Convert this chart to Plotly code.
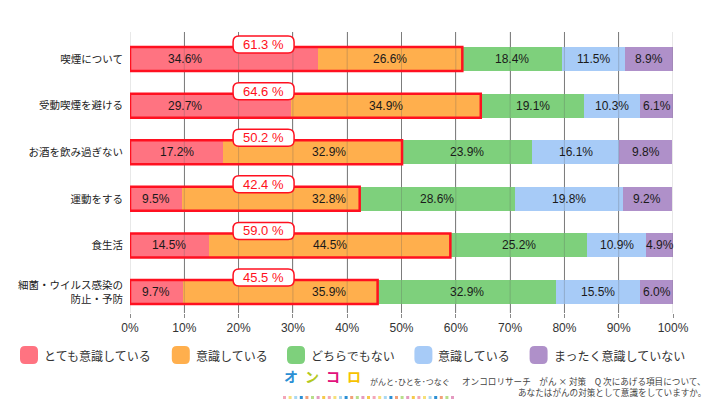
import plotly.graph_objects as go

# ---------------- data ----------------
categories = ["喫煙について", "受動喫煙を避ける", "お酒を飲み過ぎない", "運動をする", "食生活",
              "細菌・ウイルス感染の<br>防止・予防"]
series_names = ["とても意識している", "意識している", "どちらでもない", "意識している", "まったく意識していない"]
very_conscious = [34.6, 29.7, 17.2, 9.5, 14.5, 9.7]
conscious = [26.6, 34.9, 32.9, 32.8, 44.5, 35.9]
neutral = [18.4, 19.1, 23.9, 28.6, 25.2, 32.9]
somewhat = [11.5, 10.3, 16.1, 19.8, 10.9, 15.5]
not_at_all = [8.9, 6.1, 9.8, 9.2, 4.9, 6.0]
conscious_total = [61.3, 64.6, 50.2, 42.4, 59.0, 45.5]
tick_vals = [0, 10, 20, 30, 40, 50, 60, 70, 80, 90, 100]
tick_text = ["0%", "10%", "20%", "30%", "40%", "50%", "60%", "70%", "80%", "90%", "100%"]

series = [very_conscious, conscious, neutral, somewhat, not_at_all]
colors = ["#FF7381", "#FFAF4D", "#7ED07C", "#A7CBF7", "#AF90C9"]

# ---------------- layout geometry (page pixels) ----------------
PAGE_W, PAGE_H = 720, 411
OFF = 8  # default body margin of the html page
W, H = PAGE_W - 2 * OFF, PAGE_H - 2 * OFF
PL, PR, PT, PB = 130, 673, 32, 313  # plot area in page pixels
ML, MT = PL - OFF, PT - OFF
MR, MB = W - (PR - OFF), H - (PB - OFF)
PW, PH = PR - PL, PB - PT
BAR_W = 0.515
JP = "Noto Sans CJK JP"
LAT = "Liberation Sans, Arial, sans-serif"

def px2x(px):
    return (px - PL) / PW

def py2y(py):
    return (PB - py) / PH

def rrect(x0, y0, x1, y1, rx, ry):
    return (f"M{x0+rx},{y0} L{x1-rx},{y0} Q{x1},{y0} {x1},{y0+ry} "
            f"L{x1},{y1-ry} Q{x1},{y1} {x1-rx},{y1} L{x0+rx},{y1} "
            f"Q{x0},{y1} {x0},{y1-ry} L{x0},{y0+ry} Q{x0},{y0} {x0+rx},{y0} Z")

n = len(categories)
ypos = list(range(n))

fig = go.Figure()
for name, vals, col in zip(series_names, series, colors):
    fig.add_trace(go.Bar(
        y=ypos, x=vals, orientation="h", name=name, width=BAR_W,
        marker=dict(color=col, line=dict(width=0)), showlegend=False,
        hoverinfo="x+name"))

shapes = []
annotations = []

# gridlines over the bars (faint)
for tv in tick_vals:
    shapes.append(dict(type="line", xref="x", yref="paper", x0=tv, x1=tv, y0=0, y1=1,
                       line=dict(color="rgba(90,90,90,0.28)", width=1), layer="above"))

# total-box geometry (units of x-axis / y-axis)
unit_px_x = PW / 100.0
unit_px_y = PH / 6.03
box_cx, box_w = 24.6, 61 / unit_px_x
box_h = 17 / unit_px_y
box_dy = -14.5 / unit_px_y
box_left, box_right = box_cx - box_w / 2, box_cx + box_w / 2

for i in range(n):
    cum = 0
    for k, vals in enumerate(series):
        v = vals[i]
        cx = cum + v / 2
        if k == 0:
            cx = min(cx, box_left - 8.9)
        elif k == 1:
            cx = max(cx, box_right + 6.4)
        annotations.append(dict(x=cx, y=i, xref="x", yref="y", text=f"{v:.1f}%",
                                showarrow=False, font=dict(family=LAT, size=12, color="#1a1a1a")))
        cum += v
    tot = very_conscious[i] + conscious[i]
    shapes.append(dict(type="rect", xref="x", yref="y", x0=0, x1=tot,
                       y0=i - BAR_W / 2, y1=i + BAR_W / 2,
                       line=dict(color="#FF1020", width=2.5), layer="above"))
    yc = i + box_dy
    shapes.append(dict(type="path", xref="x", yref="y",
                       path=rrect(box_left, yc - box_h / 2, box_right, yc + box_h / 2,
                                  6 / unit_px_x, 6 / unit_px_y),
                       fillcolor="white", line=dict(color="#FF1020", width=1.5), layer="above"))
    annotations.append(dict(x=box_cx, y=yc, xref="x", yref="y", text=f"{conscious_total[i]:.1f} %",
                            showarrow=False, font=dict(family=LAT, size=13, color="#FF1020")))

# legend (manual, rounded swatches)
lx = 20
ly = 355
for name, col in zip(series_names, colors):
    shapes.append(dict(type="path", xref="paper", yref="paper",
                       path=rrect(px2x(lx), py2y(ly + 9), px2x(lx + 18), py2y(ly - 9),
                                  5 / PW, 5 / PH),
                       fillcolor=col, line=dict(width=0), layer="above"))
    annotations.append(dict(x=px2x(lx + 22), y=py2y(ly), xref="paper", yref="paper",
                            xanchor="left", yanchor="middle", text=name, showarrow=False,
                            font=dict(family=JP, size=12, color="#333333")))
    lx += 18 + 4 + len(name) * 12.2 + 20

# footer logo (single text with coloured letters)
logo_chars = ["オ", "ン", "コ", "ロ"]
logo_cols = ["#2B8FD4", "#B4C91E", "#E2137C", "#F6C200"]
logo_text = "\u2002".join(f"<span style='color:{c}'><b>{ch}</b></span>"
                          for ch, c in zip(logo_chars, logo_cols))
annotations.append(dict(x=px2x(282), y=py2y(388), xref="paper", yref="paper", xanchor="left",
                        text=logo_text, showarrow=False,
                        font=dict(family=JP, size=14, color="#2B8FD4")))
dash_cols = ["#F3A6B8", "#F6E07A", "#A9D8F2", "#2B8FD4", "#F2A07A", "#B7DE8A", "#E49AC0", "#F6C94A"]
x = 283
j = 0
while x < 452:
    shapes.append(dict(type="rect", xref="paper", yref="paper",
                       x0=px2x(x), x1=px2x(x + 3), y0=py2y(399), y1=py2y(396),
                       fillcolor=dash_cols[j % len(dash_cols)], line=dict(width=0)))
    x += 5.6
    j += 1
annotations.append(dict(x=px2x(368), y=py2y(389), xref="paper", yref="paper", xanchor="left",
                        text="がんと･ひとを･つなぐ", showarrow=False,
                        font=dict(family=JP, size=8, color="#444444")))
annotations.append(dict(x=px2x(708), y=py2y(389), xref="paper", yref="paper", xanchor="right",
                        text="オンコロリサーチ　がん × 対策　Q 次にあげる項目について、", showarrow=False,
                        font=dict(family=JP, size=8.6, color="#444444")))
annotations.append(dict(x=px2x(708), y=py2y(400), xref="paper", yref="paper", xanchor="right",
                        text="あなたはがんの対策として意識をしていますか。", showarrow=False,
                        font=dict(family=JP, size=8.6, color="#444444")))

fig.update_layout(
    width=W, height=H, barmode="stack", bargap=0,
    margin=dict(l=ML, r=MR, t=MT, b=MB, autoexpand=False),
    paper_bgcolor="white", plot_bgcolor="white",
    xaxis=dict(range=[0, 100], tickvals=tick_vals, ticktext=tick_text,
               showgrid=True, gridcolor="#8a8a8a", gridwidth=1, zeroline=False,
               ticks="outside", ticklen=4, tickcolor="#8a8a8a",
               tickfont=dict(family=LAT, size=12, color="#333333"), fixedrange=True),
    yaxis=dict(range=[5.45, -0.58], tickvals=ypos, ticktext=categories, showgrid=False,
               zeroline=False, ticks="", ticklabelstandoff=6,
               tickfont=dict(family=JP, size=10.5, color="#222222"), fixedrange=True),
    shapes=shapes, annotations=annotations, showlegend=False,
)

fig.write_html("out.html")
